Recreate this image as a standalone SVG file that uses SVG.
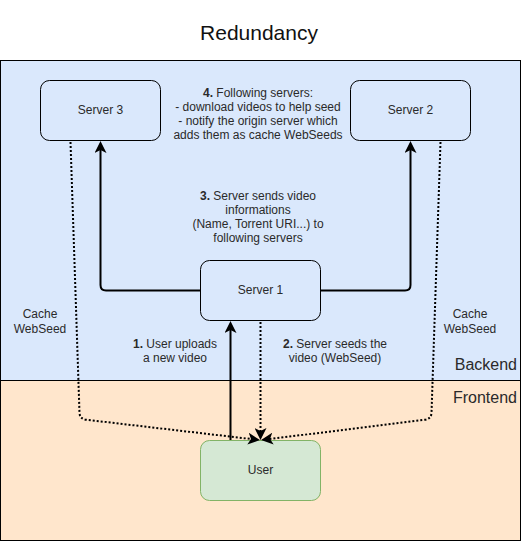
<svg xmlns="http://www.w3.org/2000/svg" width="521" height="541" viewBox="0 0 521 541">
<style>
text{font-family:"Liberation Sans",Arial,Helvetica,sans-serif;fill:#2a2a2a;}
.lbl{font-size:12px;text-anchor:middle;}
.node{stroke:#000;stroke-width:1;fill:#dae8fc;}
.solid{fill:none;stroke:#000;stroke-width:2;}
.dot{fill:none;stroke:#000;stroke-width:2;stroke-dasharray:2 2;}
</style>
<defs>
<marker id="arr" viewBox="0 0 12 12" markerWidth="12" markerHeight="12" refX="3" refY="6" orient="auto" markerUnits="userSpaceOnUse">
<path d="M0,0 L12,6 L0,12 L3,6 Z" fill="#000"/>
</marker>
</defs>
<rect width="521" height="541" fill="#fff"/>
<text x="259" y="40" style="font-size:21px;text-anchor:middle;fill:#111">Redundancy</text>
<g id="backend">
<rect x="0.5" y="60.5" width="520" height="320" fill="#dae8fc" stroke="#000"/>
<text x="517" y="370" style="font-size:16px;text-anchor:end">Backend</text>
</g>
<g id="frontend">
<rect x="0.5" y="380.5" width="520" height="160" fill="#ffe6cc" stroke="#000"/>
<text x="517" y="403" style="font-size:16px;text-anchor:end">Frontend</text>
</g>
<g id="server3">
<rect class="node" x="40.5" y="80.5" width="120" height="60" rx="9"/>
<text class="lbl" x="100.5" y="114">Server 3</text>
</g>
<g id="server2">
<rect class="node" x="350.5" y="80.5" width="120" height="60" rx="9"/>
<text class="lbl" x="410.5" y="114">Server 2</text>
</g>
<g id="server1">
<rect class="node" x="200.5" y="260.5" width="120" height="60" rx="9"/>
<text class="lbl" x="260.5" y="294">Server 1</text>
</g>
<g id="user">
<rect x="200.5" y="440.5" width="120" height="60" rx="9" fill="#d5e8d4" stroke="#82b366"/>
<text class="lbl" x="260.5" y="474">User</text>
</g>
<g id="connectors">
<path class="solid" d="M200,290.5 L106,290.5 Q100.5,290.5 100.5,285 L100.5,150" marker-end="url(#arr)"/>
<path class="solid" d="M320,290.5 L405,290.5 Q410.5,290.5 410.5,285 L410.5,150" marker-end="url(#arr)"/>
<path class="solid" d="M230.5,440 L230.5,330" marker-end="url(#arr)"/>
<path class="dot" d="M260.5,322 L260.5,431" marker-end="url(#arr)"/>
<path class="dot" d="M70.5,142 L79.5,413 Q80,419 86,419.7 L251,439" marker-end="url(#arr)"/>
<path class="dot" d="M440.5,142 L431.5,413 Q431,419 425,419.7 L270,439" marker-end="url(#arr)"/>
</g>
<g id="labels">
<text class="lbl" x="258"><tspan x="258" y="97"><tspan font-weight="bold">4.</tspan> Following servers:</tspan><tspan x="258" y="111">- download videos to help seed</tspan><tspan x="258" y="125">- notify the origin server which</tspan><tspan x="258" y="139">adds them as cache WebSeeds</tspan></text>
<text class="lbl" x="258"><tspan x="258" y="200"><tspan font-weight="bold">3.</tspan> Server sends video</tspan><tspan x="258" y="214">informations</tspan><tspan x="258" y="228">(Name, Torrent URI...) to</tspan><tspan x="258" y="242">following servers</tspan></text>
<text class="lbl"><tspan x="40" y="318">Cache</tspan><tspan x="40" y="333">WebSeed</tspan></text>
<text class="lbl"><tspan x="470" y="318">Cache</tspan><tspan x="470" y="333">WebSeed</tspan></text>
<text class="lbl"><tspan x="175" y="348"><tspan font-weight="bold">1.</tspan> User uploads</tspan><tspan x="175" y="362">a new video</tspan></text>
<text class="lbl"><tspan x="335" y="348"><tspan font-weight="bold">2.</tspan> Server seeds the</tspan><tspan x="335" y="362">video (WebSeed)</tspan></text>
</g>
</svg>
